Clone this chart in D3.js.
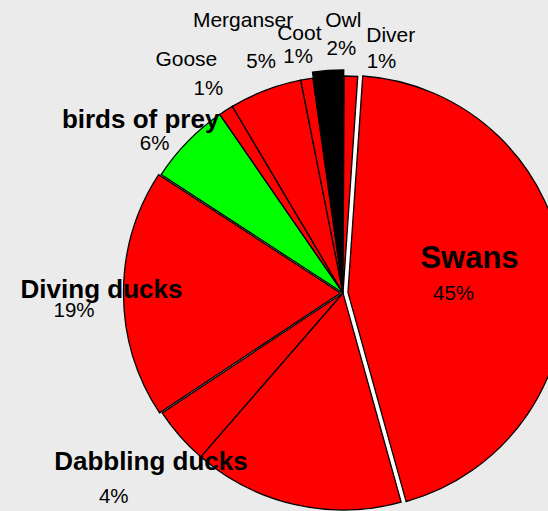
<!DOCTYPE html>
<html>
<head>
<meta charset="utf-8">
<script src="https://cdn.jsdelivr.net/npm/d3@7"></script>
<style>
  html, body { margin: 0; padding: 0; background: #ebebeb; }
  svg { display: block; }
  text { font-family: "Liberation Sans", Arial, Helvetica, sans-serif; fill: #000; }
</style>
</head>
<body>
<svg id="chart" width="548" height="511"></svg>
<script>
// Bird counts, share of total (%), clockwise from the top
const categories = ["Swans", "", "Dabbling ducks", "Diving ducks", "birds of prey", "Goose", "Merganser", "Coot", "Owl", "Diver"];
const shares     = [44.6, 15.7, 4.3, 18.5, 6.2, 1.1, 5.4, 0.9, 2.3, 1.0];
const fills      = ["#ff0000", "#ff0000", "#ff0000", "#ff0000", "#00ff00", "#ff0000", "#ff0000", "#ff0000", "#000000", "#ff0000"];
const explodeBy  = [5, 0, 0, 2.5, 0, 0, 0, 0, 6, 0];
const nameStyle  = ["big", "", "bold", "bold", "bold", "plain", "plain", "plain", "plain", "plain"];

// label offsets from their anchor point [dx, dy]
const nameNudge = [[-3, -11.5], [0, 0], [-12.7, 19.8], [-2.8, 4.0], [-31.3, 1.1], [-27.9, -25.6], [-14.6, -42.8], [-3.9, -17.6], [16.3, -27.5], [39, -12.8]];
const pctNudge  = [[-19, 20.2], [0, 0], [-49.9, 52.8], [-30.3, 23.0], [-17.3, 23.5], [-5.9, 2.7], [3.4, -1.8], [-5.1, 5.7], [14.3, 0.2], [29.7, 13.8]];

const W = 548, H = 511;
const cx = 343, cy = 293, R = 217;
const startDeg = 3.9;

const svg = d3.select("#chart");
svg.append("rect").attr("width", W).attr("height", H).attr("fill", "#ebebeb");

const g = svg.append("g").attr("transform", `translate(${cx},${cy})`);

const data = categories.map((name, i) => ({ name, value: shares[i], i }));
const pie = d3.pie().sort(null).value(d => d.value)
  .startAngle(startDeg * Math.PI / 180)
  .endAngle(startDeg * Math.PI / 180 + 2 * Math.PI);
const arcs = pie(data);

const arc = d3.arc().innerRadius(0).outerRadius(R);

// base disc shows through where slices are pulled out
g.append("circle").attr("r", R).attr("fill", "#ffffff");

g.selectAll("path.slice")
  .data(arcs)
  .join("path")
  .attr("class", "slice")
  .attr("d", arc)
  .attr("fill", d => fills[d.data.i])
  .attr("stroke", "#000")
  .attr("stroke-width", 1.3)
  .attr("stroke-linejoin", "miter")
  .attr("transform", d => {
    const a = (d.startAngle + d.endAngle) / 2;
    const k = explodeBy[d.data.i];
    return `translate(${k * Math.sin(a)},${-k * Math.cos(a)})`;
  });

// label anchors: inside for the dominant slice, just outside the rim otherwise
function anchor(d) {
  const a = (d.startAngle + d.endAngle) / 2;
  const r = d.data.value > 30 ? 0.6 * R : 1.1 * R;
  return [r * Math.sin(a), -r * Math.cos(a)];
}

const labelled = arcs.filter(d => d.data.name !== "");

g.selectAll("text.name")
  .data(labelled)
  .join("text")
  .attr("class", "name")
  .attr("text-anchor", "middle")
  .attr("x", d => anchor(d)[0] + nameNudge[d.data.i][0])
  .attr("y", d => anchor(d)[1] + nameNudge[d.data.i][1])
  .attr("font-weight", d => nameStyle[d.data.i] === "plain" ? "normal" : "bold")
  .attr("font-size", d => nameStyle[d.data.i] === "big" ? 31 : nameStyle[d.data.i] === "bold" ? 26 : 21)
  .text(d => d.data.name);

g.selectAll("text.pct")
  .data(labelled)
  .join("text")
  .attr("class", "pct")
  .attr("text-anchor", "middle")
  .attr("x", d => anchor(d)[0] + pctNudge[d.data.i][0])
  .attr("y", d => anchor(d)[1] + pctNudge[d.data.i][1])
  .attr("font-size", 20.5)
  .text(d => Math.round(d.data.value) + "%");
</script>
</body>
</html>
